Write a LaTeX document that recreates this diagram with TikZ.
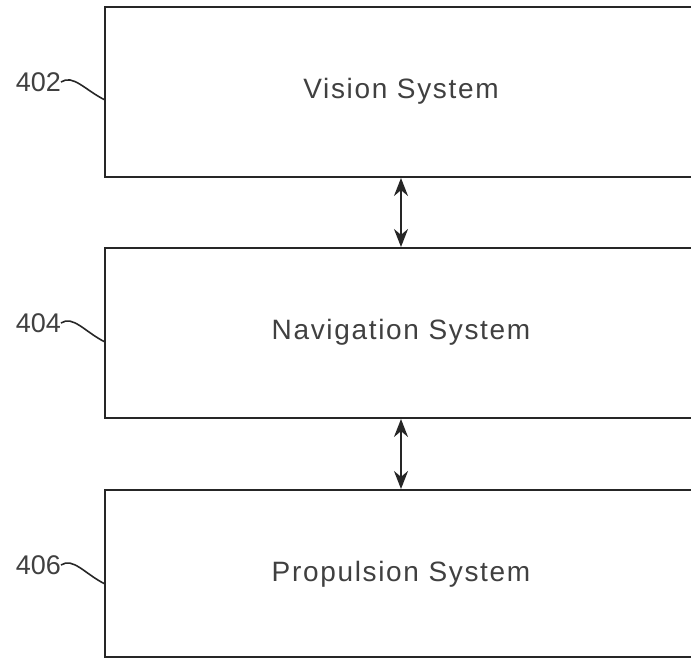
\documentclass[tikz,border=0pt]{standalone}
\usepackage{fontspec}
\setmainfont{Liberation Sans}
\usetikzlibrary{arrows.meta}
\begin{document}
\begin{tikzpicture}[x=1pt,y=-1pt,
  sysbox/.style={draw=black!85,line width=2pt},
  systext/.style={font=\fontsize{28}{32}\selectfont\addfontfeature{LetterSpace=6},text=black!75},
  reflabel/.style={font=\fontsize{27}{30}\selectfont,text=black!75,anchor=east,inner sep=0pt},
  leader/.style={draw=black!85,line width=1.6pt},
  biarrow/.style={draw=black!85,line width=2pt,{Stealth[length=18pt,width=14pt]}-{Stealth[length=18pt,width=14pt]}}]
\useasboundingbox (0,0) rectangle (691,659);
\begin{scope}
\clip (0,0) rectangle (691,659);
\draw[sysbox] (105,7) rectangle (720,177);
\draw[sysbox] (105,248) rectangle (720,418);
\draw[sysbox] (105,490) rectangle (720,657);
\end{scope}
\node[systext] (vis) at (401,91) {Vision System};
\node[systext] (nav) at (401,332) {Navigation System};
\node[systext] (pro) at (401,574) {Propulsion System};
\coordinate (v1) at (401,178);
\coordinate (n0) at (401,247);
\coordinate (n1) at (401,419);
\coordinate (p0) at (401,489);
\draw[biarrow] (v1) -- (n0);
\draw[biarrow] (n1) -- (p0);
\node[reflabel] (l402) at (61,82) {402};
\node[reflabel] (l404) at (61,323) {404};
\node[reflabel] (l406) at (61,565) {406};
\coordinate (e402) at (105,100);
\coordinate (e404) at (105,342);
\coordinate (e406) at (105,584);
\draw[leader] (l402.east) .. controls +(12,-8) and +(-20,-10) .. (e402);
\draw[leader] (l404.east) .. controls +(12,-8) and +(-20,-10) .. (e404);
\draw[leader] (l406.east) .. controls +(12,-8) and +(-20,-10) .. (e406);
\end{tikzpicture}
\end{document}
